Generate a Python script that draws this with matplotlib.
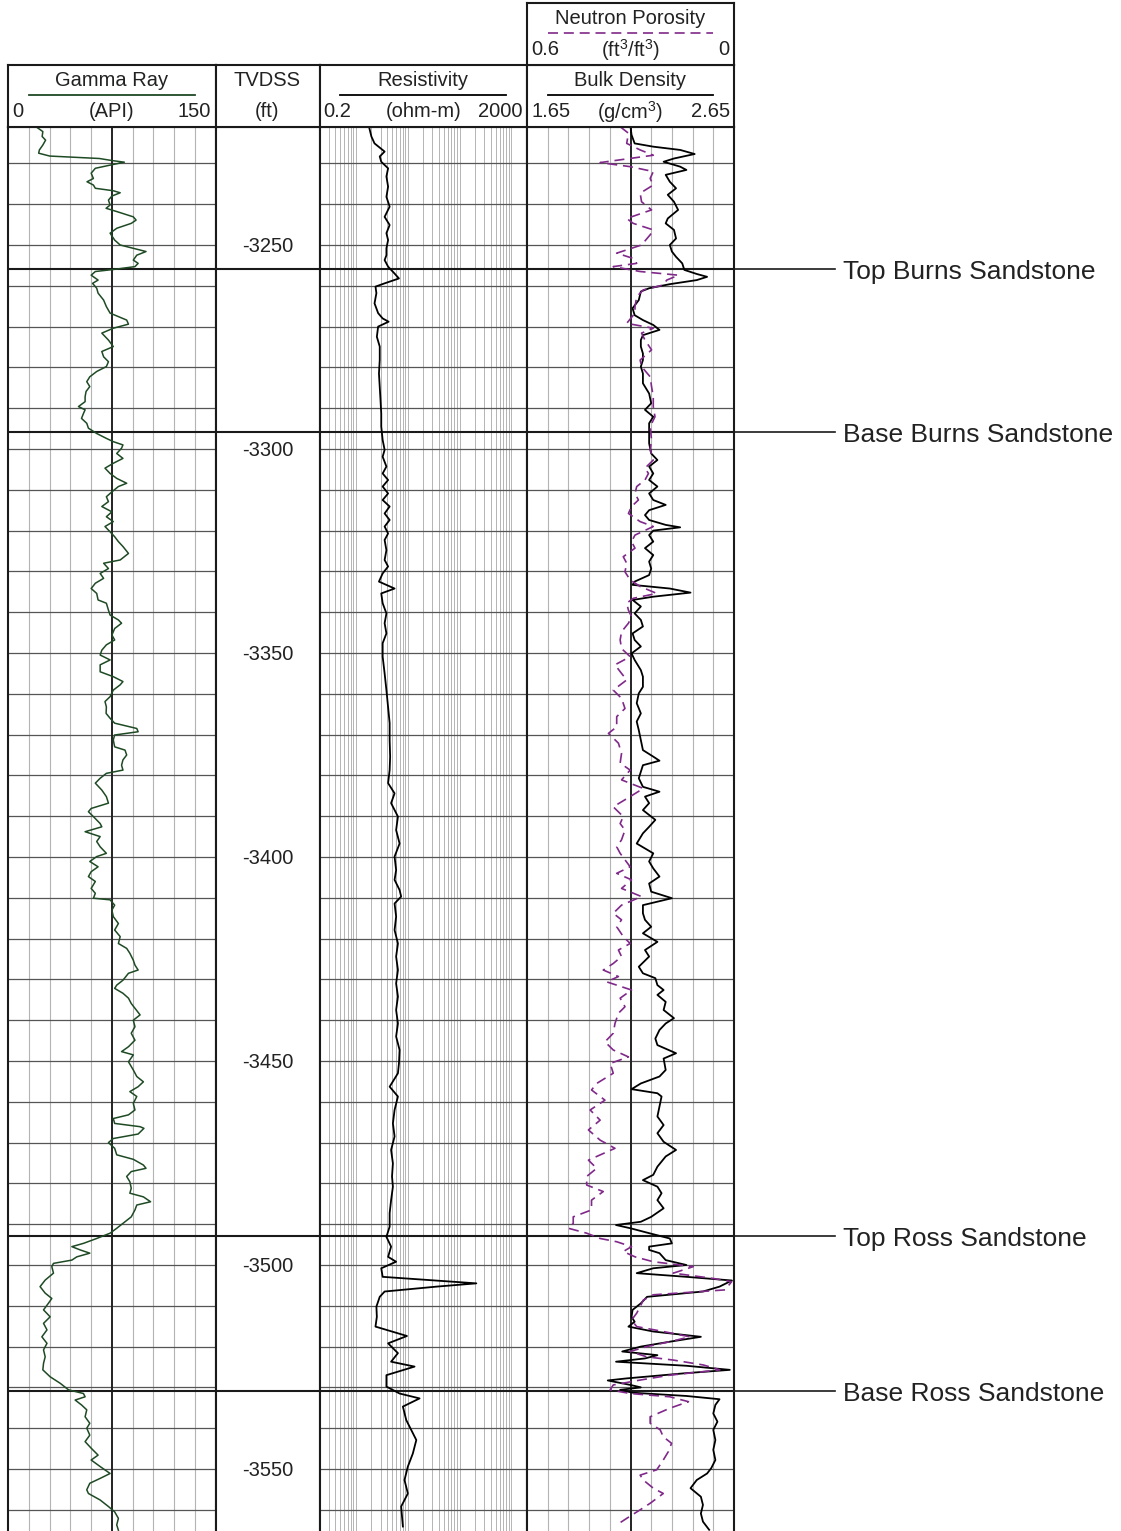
import numpy as np
import matplotlib
matplotlib.use("Agg")
import matplotlib.pyplot as plt
from matplotlib.lines import Line2D
from matplotlib import transforms
from matplotlib.ticker import NullLocator

plt.rcParams['font.family'] = ['Liberation Sans', 'DejaVu Sans']
plt.rcParams['mathtext.fontset'] = 'custom'
plt.rcParams['mathtext.rm'] = 'Liberation Sans'
plt.rcParams['mathtext.it'] = 'Liberation Sans'

# depths are feet below sea level (TVDSS shown as negative)
gr_depth = [3221.0, 3222.2, 3223.4, 3224.3, 3225.5, 3226.7, 3227.5, 3228.2, 3228.8, 3229.3, 3229.7, 3230.4, 3231.2, 3232.4, 3233.7, 3234.5, 3235.3, 3236.1, 3236.7, 3237.2,
            3238.0, 3239.0, 3240.2, 3241.0, 3241.8, 3243.1, 3243.9, 3244.7, 3245.9, 3247.1, 3248.8, 3250.0, 3250.8, 3251.6, 3252.5, 3253.7, 3254.5, 3255.3, 3256.0, 3256.5,
            3257.4, 3258.6, 3259.4, 3260.6, 3261.8, 3263.5, 3265.1, 3266.7, 3268.4, 3269.4, 3270.4, 3271.6, 3273.3, 3274.9, 3276.1, 3277.4, 3278.6, 3279.8, 3281.0, 3282.3,
            3283.5, 3284.7, 3285.9, 3287.2, 3288.4, 3289.6, 3290.4, 3291.3, 3292.5, 3293.7, 3294.9, 3296.2, 3297.4, 3298.2, 3299.0, 3299.8, 3301.1, 3302.3, 3303.5, 3304.7,
            3306.0, 3307.2, 3308.4, 3309.2, 3310.5, 3311.7, 3312.9, 3314.1, 3315.4, 3316.6, 3317.8, 3319.0, 3320.3, 3321.5, 3322.7, 3323.9, 3325.6, 3327.2, 3328.0, 3329.3,
            3330.5, 3331.7, 3332.9, 3334.2, 3335.4, 3337.0,
            3337.8, 3339.5, 3340.7, 3341.9, 3342.7, 3344.0, 3345.6, 3346.8, 3348.0, 3349.3, 3350.5, 3351.7, 3352.9, 3354.6, 3355.8, 3357.0, 3357.8, 3359.1, 3360.7, 3361.9,
            3363.2, 3364.8, 3366.0, 3367.2, 3368.5, 3369.3, 3370.1, 3371.3, 3373.0, 3373.8, 3375.0, 3376.2, 3377.5, 3378.7, 3379.5, 3380.7, 3381.9, 3383.6, 3385.2, 3386.8,
            3388.1, 3388.9, 3390.1, 3391.8, 3392.6, 3393.8, 3395.0, 3396.2, 3397.5, 3399.1, 3399.9, 3401.1, 3402.4, 3403.6, 3404.8, 3406.0, 3407.7, 3408.9, 3410.1, 3410.5,
            3411.8, 3413.0, 3414.6, 3416.3, 3417.9, 3419.5, 3421.2, 3422.4, 3423.6, 3425.3, 3426.5, 3427.7, 3428.5, 3430.2, 3431.4, 3432.2, 3433.4, 3434.6, 3435.9, 3437.1,
            3438.7, 3440.0, 3441.6, 3443.2, 3444.9, 3446.5, 3447.7, 3448.5, 3450.2, 3452.2,
            3453.8, 3455.1, 3456.3, 3457.5, 3458.7, 3460.4, 3462.0, 3463.2, 3464.1, 3465.3, 3466.1, 3466.5, 3467.9, 3469.0, 3470.0, 3471.4, 3473.0, 3474.1, 3475.5, 3476.3,
            3477.1, 3478.3, 3479.6, 3481.2, 3482.4, 3483.3, 3484.5, 3485.3, 3486.5, 3488.2, 3489.8, 3491.0, 3492.2, 3493.5, 3494.7, 3495.5, 3496.3, 3497.1, 3498.0, 3498.8,
            3499.6, 3500.4, 3502.0, 3503.7, 3505.3, 3506.9, 3508.2, 3509.4, 3511.0, 3512.7, 3514.3, 3515.9, 3517.6, 3519.2, 3520.8, 3522.5, 3524.1, 3525.7, 3527.4, 3529.0,
            3530.6, 3531.5, 3532.3, 3533.1, 3534.3, 3535.5, 3537.2, 3538.8, 3540.0, 3541.7, 3543.3, 3544.9, 3546.6, 3547.8, 3549.4, 3551.1, 3552.3, 3553.5, 3555.1, 3556.0,
            3557.6, 3559.2, 3560.5, 3562.1, 3563.7, 3565.0]
gr_api = [20, 25, 24.5, 27, 25, 22.5, 22, 30, 66, 75, 84, 74, 63, 60, 61.6, 57, 61.6, 63, 76, 81,
          75, 72.5, 73.7, 70.8, 78.5, 90.5, 92.5, 89, 78.5, 73.7, 77, 81, 90.5, 99.7, 93, 90.5, 94, 91.7, 76, 63,
          60, 65, 61, 64, 65, 69, 71, 73.7, 85.7, 87, 76, 67.7, 72.5, 76, 67.7, 69, 72.5, 71, 64, 59,
          56.8, 59, 56.3, 55.6, 55.6, 50.8, 55.6, 54.4, 53, 56.8, 58, 64, 71, 76, 83, 82, 78.5, 83, 76, 70,
          73.7, 78.5, 85.7, 79.7, 75, 71, 72.5, 67.7, 75, 71, 76, 70, 73.7, 77, 79.7, 83, 87, 81, 69, 72.5,
          66.5, 69, 63, 60, 64, 65,
          71, 72.5, 73.7, 79.7, 82, 77, 75, 77, 71, 67.7, 66.5, 73.7, 66.5, 66.5, 76, 83, 81, 76, 73.7, 70,
          71, 70.8, 73.7, 77, 93, 94, 77, 76, 77, 84.5, 85.7, 83, 82, 83, 71, 66.5, 63, 67.7, 71, 72.5,
          60, 58, 61.6, 66.5, 67.7, 55.6, 66.5, 64, 66.5, 71, 64, 59, 65, 60, 58, 63, 60, 63, 61.6, 73.7,
          77, 75, 76, 79.7, 77, 81, 79.7, 85.7, 88, 90.5, 91.7, 94, 87, 83, 78.5, 77, 83, 87, 89, 91.7,
          95.4, 90.5, 91.7, 89, 91.7, 87, 82, 90.5, 87, 90.5,
          93, 97.8, 94, 88, 93, 90.5, 91.7, 87, 76, 77, 95.4, 98.2, 94, 76, 72.5, 77, 78.5, 90.5, 97.8, 99.7,
          89, 85.7, 88, 89, 88, 97.8, 103, 93, 91.7, 89, 83, 78.5, 73.7, 64, 54.4, 46, 52, 59, 49.6, 46,
          32.7, 31.5, 32.7, 26.7, 23, 26.7, 31.5, 29, 25.5, 30.3, 25.5, 28, 24.3, 28, 25.5, 26.7, 25.5, 25, 30.3, 37.6,
          43.6, 54.4, 55.6, 48.4, 53, 56.8, 55.6, 59, 56.8, 59, 55.6, 60, 65, 60, 66.5, 73.7, 66.5, 59, 56.8, 58,
          66.5, 72.5, 77, 79.7, 78.5, 79.7]

res_depth = [3221.0, 3223.4, 3225.1, 3227.1, 3228.3, 3229.6, 3231.2, 3233.2, 3235.7, 3238.2, 3240.6, 3243.1, 3245.1, 3247.1, 3248.8, 3250.8, 3252.5, 3253.7, 3255.3, 3257.0,
             3258.2, 3259.4, 3260.2, 3261.8, 3264.3, 3266.7, 3268.0, 3268.8, 3270.0, 3272.5, 3274.9, 3278.2, 3281.5, 3284.7, 3288.0, 3291.3, 3294.5, 3297.8, 3300.2, 3301.9,
             3304.3, 3306.0, 3307.6, 3309.2, 3310.9, 3312.5, 3314.1, 3315.8, 3317.4, 3319.0, 3320.7, 3322.3, 3324.8, 3327.2, 3328.8, 3330.5, 3332.5, 3334.2, 3335.4,
             3337.8, 3340.3, 3342.7, 3345.2, 3347.6, 3350.9, 3355.0, 3359.1, 3363.2, 3367.2, 3371.3, 3375.4, 3378.7, 3381.9, 3384.4, 3386.8, 3390.1, 3393.4, 3396.7, 3399.9,
             3403.2, 3405.6, 3408.1, 3409.7, 3411.4, 3414.6, 3417.9, 3421.2, 3424.4, 3427.7, 3431.0, 3434.2, 3437.5, 3440.8, 3444.0, 3447.3, 3450.6,
             3453.0, 3456.3, 3458.7, 3462.0, 3465.3, 3468.5, 3471.8, 3475.1, 3478.3, 3480.8, 3484.1, 3487.3, 3490.6, 3493.1, 3495.5, 3498.0, 3499.2, 3500.8, 3502.9, 3503.7,
             3504.5, 3505.3, 3506.5, 3507.8, 3510.2, 3512.7, 3515.1, 3517.4, 3519.2, 3521.6, 3523.7, 3524.9, 3527.0, 3529.8, 3531.5, 3532.7, 3534.7, 3538.0, 3542.9, 3546.2,
             3549.4, 3552.7, 3556.0, 3559.2, 3564.1]
res_ohmm = [1.8, 2.0, 2.3, 3.6, 2.9, 3.1, 4.2, 3.9, 4.2, 3.9, 4.5, 3.6, 4.5, 3.9, 4.2, 3.9, 3.9, 3.6, 4.2, 5.6,
            6.8, 3.6, 2.4, 2.5, 2.3, 2.7, 3.3, 4.3, 2.7, 2.55, 2.9, 2.9, 2.8, 2.9, 3.0, 3.1, 3.1, 3.3, 3.6, 3.3,
            3.9, 3.3, 4.2, 3.3, 4.2, 3.3, 4.5, 3.6, 4.5, 3.6, 4.2, 3.6, 3.9, 3.6, 4.2, 3.3, 2.8, 5.6, 3.1,
            3.3, 3.9, 3.6, 3.9, 3.3, 3.3, 3.6, 3.9, 4.2, 4.5, 4.5, 4.6, 4.5, 4.2, 5.6, 4.8, 6.5, 6.0, 7.0, 5.6,
            6.0, 5.6, 7.0, 7.5, 5.6, 6.0, 5.6, 6.5, 6.0, 6.5, 6.0, 6.5, 6.0, 6.5, 6.0, 7.0, 6.8,
            6.5, 4.5, 6.5, 5.6, 5.2, 5.6, 4.8, 5.2, 5.0, 5.2, 4.8, 4.5, 4.5, 3.9, 4.8, 4.2, 6.0, 3.1, 3.3, 26,
            211, 36, 3.6, 2.9, 2.5, 2.55, 2.4, 9.7, 4.2, 6.5, 4.8, 13.6, 3.9, 3.9, 7.0, 17, 8.1, 9.4, 14.7, 12.6,
            10.1, 8.7, 10.1, 7.5, 8.1]

rhob_depth = [3221.0, 3223.0, 3225.1, 3225.9, 3226.7, 3227.7, 3228.8, 3229.6, 3230.8, 3231.6, 3232.8, 3234.5, 3236.1, 3237.7, 3239.4, 3241.4, 3243.5, 3244.7, 3246.3, 3248.4,
              3250.0, 3251.6, 3252.9, 3254.5, 3256.1, 3257.1, 3257.8, 3258.6, 3259.6, 3260.6, 3261.4, 3263.5, 3265.5, 3267.2, 3268.4, 3269.6, 3270.8, 3272.1, 3273.3, 3274.9,
              3276.6, 3278.2, 3279.8, 3281.5, 3283.9, 3286.4, 3288.8, 3290.4, 3292.1, 3293.7, 3296.2, 3298.6, 3301.1, 3302.7, 3304.3, 3306.0, 3307.6, 3309.2, 3310.9, 3312.5,
              3313.7, 3315.0, 3316.2, 3317.4, 3318.6, 3319.2, 3320.0, 3321.1, 3322.7, 3324.3, 3326.0, 3327.6, 3329.3, 3330.9, 3332.5, 3333.3, 3334.2, 3335.2, 3336.2, 3337.0,
              3338.6, 3340.3, 3341.9, 3343.5, 3345.2, 3346.8, 3348.4, 3350.1, 3351.7, 3354.2, 3355.8, 3358.3, 3359.9, 3362.3, 3364.8, 3366.8, 3368.9, 3371.3, 3373.8, 3375.4,
              3376.4, 3377.5, 3379.1, 3380.7, 3382.8, 3384.0, 3385.2, 3386.8, 3388.5, 3390.9, 3392.6, 3394.2, 3396.7, 3397.9, 3399.1, 3401.1, 3402.8, 3404.8, 3406.5, 3408.5,
              3410.1, 3411.8, 3413.8, 3415.4, 3417.1, 3418.7, 3420.8, 3422.8, 3424.4, 3426.9, 3428.5, 3429.7, 3431.4, 3432.6, 3433.8, 3435.5, 3437.5, 3439.5, 3440.8, 3442.4,
              3444.5, 3446.1, 3448.1, 3449.4, 3452.2,
              3453.8, 3455.5, 3456.9, 3457.9, 3458.7, 3461.2, 3463.6, 3465.7, 3467.7, 3469.8, 3471.8, 3473.4, 3475.9, 3477.9, 3479.2, 3480.8, 3482.4, 3484.1, 3486.1, 3488.2,
              3489.4, 3490.2, 3491.0, 3492.2, 3493.5, 3494.7, 3495.5, 3496.3, 3497.1, 3498.8, 3500.0, 3500.8, 3502.0, 3502.9, 3503.8, 3505.3, 3506.5, 3507.8, 3509.4, 3511.0,
              3512.7, 3513.9, 3515.1, 3516.3, 3517.6, 3518.8, 3520.0, 3521.2, 3522.1, 3522.9, 3523.7, 3524.7, 3525.7, 3526.5, 3527.8, 3528.3, 3529.4, 3530.0, 3530.6, 3531.3,
              3532.1, 3532.9, 3534.3, 3536.4, 3538.4, 3540.4, 3542.9, 3545.3, 3547.8, 3549.8, 3551.1, 3552.7, 3554.7, 3556.8, 3558.8, 3560.9, 3562.9, 3564.9]
rhob = [2.15, 2.155, 2.17, 2.26, 2.39, 2.46, 2.36, 2.31, 2.39, 2.42, 2.32, 2.34, 2.37, 2.33, 2.36, 2.38, 2.33, 2.32, 2.36, 2.37,
        2.34, 2.35, 2.37, 2.40, 2.41, 2.47, 2.52, 2.47, 2.34, 2.24, 2.20, 2.19, 2.16, 2.17, 2.21, 2.26, 2.29, 2.21, 2.20, 2.20,
        2.21, 2.21, 2.20, 2.21, 2.21, 2.24, 2.25, 2.22, 2.26, 2.24, 2.24, 2.24, 2.25, 2.28, 2.24, 2.26, 2.24, 2.28, 2.24, 2.26,
        2.32, 2.24, 2.22, 2.24, 2.32, 2.39, 2.26, 2.24, 2.26, 2.22, 2.26, 2.24, 2.25, 2.24, 2.17, 2.16, 2.34, 2.44, 2.26, 2.16,
        2.20, 2.17, 2.20, 2.21, 2.16, 2.17, 2.20, 2.155, 2.17, 2.20, 2.21, 2.21, 2.19, 2.18, 2.20, 2.18, 2.19, 2.20, 2.21, 2.26,
        2.29, 2.21, 2.20, 2.19, 2.21, 2.29, 2.22, 2.24, 2.21, 2.27, 2.24, 2.21, 2.18, 2.22, 2.26, 2.24, 2.26, 2.29, 2.24, 2.25,
        2.35, 2.21, 2.21, 2.22, 2.25, 2.21, 2.28, 2.22, 2.24, 2.19, 2.21, 2.27, 2.28, 2.31, 2.28, 2.32, 2.31, 2.36, 2.32, 2.29,
        2.27, 2.28, 2.37, 2.31, 2.32,
        2.29, 2.20, 2.155, 2.28, 2.30, 2.29, 2.28, 2.31, 2.28, 2.31, 2.37, 2.32, 2.28, 2.26, 2.21, 2.28, 2.30, 2.28, 2.31, 2.25,
        2.20, 2.08, 2.15, 2.24, 2.34, 2.35, 2.24, 2.24, 2.29, 2.32, 2.42, 2.26, 2.18, 2.42, 2.64, 2.58, 2.50, 2.23, 2.20, 2.16,
        2.155, 2.17, 2.14, 2.26, 2.49, 2.34, 2.20, 2.11, 2.28, 2.22, 2.08, 2.42, 2.63, 2.42, 2.13, 2.04, 2.15, 2.20, 2.10, 2.16,
        2.42, 2.58, 2.56, 2.55, 2.57, 2.55, 2.56, 2.55, 2.56, 2.54, 2.52, 2.47, 2.44, 2.49, 2.50, 2.49, 2.50, 2.53]

nphi_depth = [3221.0, 3222.6, 3225.1, 3226.7, 3228.0, 3229.8, 3230.8, 3232.0, 3233.7, 3235.3, 3237.3, 3239.4, 3241.4, 3243.5, 3244.7, 3246.3, 3247.5, 3250.0, 3252.0, 3253.3,
              3254.5, 3255.3, 3256.5, 3257.4, 3258.6, 3259.8, 3261.0, 3262.7, 3265.1, 3266.7, 3269.2, 3270.4, 3271.6, 3273.3, 3275.7, 3278.2, 3279.8, 3282.3, 3284.7, 3287.2,
              3289.6, 3292.1, 3294.5, 3297.8, 3300.2, 3302.7, 3304.7, 3306.0, 3307.6, 3309.2, 3310.9, 3312.5, 3314.1, 3315.8, 3317.8, 3319.0, 3321.1, 3322.7, 3324.3, 3326.4,
              3328.0, 3330.1, 3332.1, 3333.7, 3335.4, 3336.6,
              3337.8, 3339.5, 3341.1, 3342.7, 3344.8, 3346.8, 3348.9, 3350.9, 3352.9, 3355.0, 3356.6, 3359.1, 3361.1, 3363.6, 3365.6, 3368.1, 3369.7, 3372.1, 3374.6, 3377.0,
              3378.7, 3381.1, 3383.2, 3385.2, 3387.7, 3390.1, 3391.8, 3393.4, 3395.8, 3397.5, 3399.1, 3400.7, 3402.4, 3404.0, 3405.6, 3407.7, 3409.7, 3411.8, 3413.8, 3415.4,
              3417.1, 3419.5, 3421.2, 3422.8, 3424.4, 3426.1, 3427.7, 3429.3, 3430.6, 3432.6, 3434.6, 3436.7, 3438.3, 3440.8, 3443.2, 3445.3, 3447.3, 3449.0, 3450.6,
              3453.0, 3455.5, 3457.1, 3459.6, 3462.0, 3464.5, 3466.9, 3469.4, 3471.4, 3474.3, 3476.3, 3478.3, 3480.4, 3482.0, 3484.1, 3486.5, 3488.2, 3489.8, 3491.0, 3492.2,
              3493.5, 3494.3, 3495.5, 3496.7, 3498.0, 3499.2, 3500.4, 3502.0, 3503.3, 3504.1, 3506.1, 3507.3, 3508.6, 3510.2, 3511.8, 3513.5, 3515.1, 3516.3, 3517.6, 3518.8,
              3520.0, 3521.2, 3522.5, 3523.3, 3524.5, 3525.7, 3527.0, 3528.2, 3529.4, 3530.6, 3531.5, 3532.3, 3533.5, 3535.1, 3537.2, 3538.8, 3540.4, 3542.1, 3543.7, 3545.7,
              3547.8, 3550.2, 3551.5, 3552.7, 3554.7, 3556.0, 3558.4, 3560.0, 3562.1, 3563.7]
nphi = [0.330, 0.306, 0.311, 0.272, 0.234, 0.388, 0.301, 0.234, 0.243, 0.234, 0.272, 0.268, 0.239, 0.311, 0.292, 0.234, 0.243, 0.268, 0.340, 0.292,
        0.282, 0.350, 0.272, 0.161, 0.195, 0.205, 0.263, 0.282, 0.287, 0.287, 0.311, 0.234, 0.268, 0.258, 0.239, 0.272, 0.268, 0.243, 0.239, 0.234,
        0.234, 0.229, 0.243, 0.239, 0.243, 0.234, 0.258, 0.248, 0.258, 0.282, 0.287, 0.277, 0.297, 0.306, 0.272, 0.234, 0.287, 0.297, 0.287, 0.321,
        0.311, 0.316, 0.301, 0.272, 0.224, 0.292,
        0.311, 0.306, 0.297, 0.306, 0.326, 0.330, 0.326, 0.301, 0.345, 0.326, 0.311, 0.350, 0.326, 0.316, 0.340, 0.340, 0.364, 0.335, 0.326, 0.330,
        0.301, 0.326, 0.263, 0.301, 0.350, 0.321, 0.330, 0.316, 0.326, 0.340, 0.330, 0.316, 0.301, 0.340, 0.297, 0.326, 0.268, 0.326, 0.350, 0.326,
        0.340, 0.321, 0.301, 0.335, 0.326, 0.350, 0.379, 0.335, 0.369, 0.297, 0.330, 0.316, 0.335, 0.345, 0.350, 0.374, 0.350, 0.306, 0.359,
        0.350, 0.398, 0.413, 0.374, 0.417, 0.388, 0.422, 0.388, 0.345, 0.422, 0.398, 0.427, 0.427, 0.379, 0.413, 0.413, 0.466, 0.466, 0.480, 0.427,
        0.388, 0.340, 0.297, 0.321, 0.287, 0.234, 0.118, 0.176, 0.060, 0.007, 0.026, 0.234, 0.263, 0.272, 0.282, 0.297, 0.282, 0.205, 0.128, 0.186,
        0.253, 0.301, 0.253, 0.176, 0.089, 0.041, 0.186, 0.272, 0.350, 0.359, 0.301, 0.186, 0.132, 0.186, 0.243, 0.243, 0.214, 0.205, 0.181, 0.190,
        0.205, 0.224, 0.272, 0.263, 0.234, 0.205, 0.243, 0.272, 0.311, 0.340]

top_names = ['Top Burns Sandstone', 'Base Burns Sandstone', 'Top Ross Sandstone', 'Base Ross Sandstone']
top_depths = [3256.0, 3295.9, 3493.0, 3531.0]
depth_labels = [3250, 3300, 3350, 3400, 3450, 3500, 3550]

W, H = 1121, 1531
fig = plt.figure(figsize=(W / 100, H / 100), dpi=100)


def box(x0, y0, x1, y1):
    return [x0 / W, 1 - y1 / H, (x1 - x0) / W, (y1 - y0) / H]


GR_C = '#1e4a24'
NPHI_C = '#80298a'
TXT = '#222222'
depth_top = 3250 - (245 - 126.5) / 4.08
depth_bot = 3250 + (1531 - 245) / 4.08
edges = [8.3, 215.5, 319.5, 527.0, 734.0]

axes = []
for i in range(4):
    ax = fig.add_axes(box(edges[i], 126.5, edges[i + 1], 1531))
    ax.set_ylim(depth_bot, depth_top)
    for s in ['left', 'right', 'top']:
        ax.spines[s].set_linewidth(1.5)
        ax.spines[s].set_color('#1a1a1a')
    ax.spines['bottom'].set_visible(False)
    axes.append(ax)
ax_gr, ax_dep, ax_res, ax_den = axes

grid_depths = np.arange(3230, 3561, 10)

# gamma ray track
ax_gr.set_xlim(0, 150)
for v in np.arange(15, 150, 15):
    if v == 75:
        ax_gr.axvline(v, color='#222222', lw=1.4, zorder=1.5)
    else:
        ax_gr.axvline(v, color='#b4b4b4', lw=0.8, zorder=1)
ax_gr.plot(gr_api, gr_depth, color=GR_C, lw=1.1, zorder=3)

# resistivity track (log)
ax_res.set_xscale('log')
ax_res.set_xlim(0.2, 2000)
for dec in [0.1, 1, 10, 100, 1000]:
    for m in range(1, 10):
        v = dec * m
        if 0.2 < v < 2000:
            ax_res.axvline(v, color='#b4b4b4', lw=0.7, zorder=1)
ax_res.plot(res_ohmm, res_depth, color='black', lw=1.3, zorder=3)

# density / neutron track
ax_den.set_xlim(1.65, 2.65)
for v in np.arange(1.75, 2.6, 0.1):
    if abs(v - 2.15) < 1e-6:
        ax_den.axvline(v, color='#222222', lw=1.4, zorder=1.5)
    else:
        ax_den.axvline(v, color='#b4b4b4', lw=0.8, zorder=1)
ax_nphi = ax_den.twiny()
ax_nphi.set_xlim(0.6, 0.0)
ax_nphi.set_ylim(depth_bot, depth_top)
ax_nphi.axis('off')
ax_nphi.plot(nphi, nphi_depth, color=NPHI_C, lw=1.2, dashes=(6, 3.5), zorder=3)
ax_den.plot(rhob, rhob_depth, color='black', lw=1.3, zorder=3)

for ax in axes:
    ax.xaxis.set_major_locator(NullLocator())
    ax.xaxis.set_minor_locator(NullLocator())
    ax.yaxis.set_major_locator(NullLocator())
    ax.yaxis.set_minor_locator(NullLocator())

for ax in [ax_gr, ax_res, ax_den]:
    for d in grid_depths:
        ax.axhline(d, color='#555555', lw=0.9, zorder=1.2)

for d in top_depths:
    for ax in axes:
        ax.axhline(d, color='#1a1a1a', lw=1.5, zorder=2)

for d in depth_labels:
    ax_dep.text(0.5, d, '-%d' % d, transform=ax_dep.get_yaxis_transform(),
                ha='center', va='center_baseline', fontsize=14.5, color=TXT)

# formation top labels to the right of the tracks
trans = transforms.blended_transform_factory(fig.transFigure, ax_gr.transData)
for name, d in zip(top_names, top_depths):
    fig.add_artist(Line2D([734 / W, 835 / W], [d, d], transform=trans, color='#1a1a1a', lw=1.2))
    fig.text(843 / W, d, name, transform=trans, ha='left', va='center_baseline', fontsize=19, color=TXT)


def header(x0, x1, y0, y1, title, left, unit, right, line_color=None, dashed=False):
    hx = fig.add_axes(box(x0, y0, x1, y1))
    hx.set_xlim(0, 1)
    hx.set_ylim(0, 1)
    hx.set_xticks([])
    hx.set_yticks([])
    for s in hx.spines.values():
        s.set_linewidth(1.5)
        s.set_color('#1a1a1a')
    hx.text(0.5, 0.74, title, ha='center', va='center', fontsize=14.5, color=TXT)
    if line_color is not None:
        if dashed:
            hx.plot([0.1, 0.9], [0.51, 0.51], color=line_color, lw=1.2, dashes=(6, 3.5))
        else:
            hx.plot([0.1, 0.9], [0.51, 0.51], color=line_color, lw=1.3)
    hx.text(0.02, 0.24, left, ha='left', va='center', fontsize=14.5, color=TXT)
    hx.text(0.5, 0.24, unit, ha='center', va='center', fontsize=14.5, color=TXT)
    hx.text(0.98, 0.24, right, ha='right', va='center', fontsize=14.5, color=TXT)
    return hx


header(edges[0], edges[1], 64.5, 126.5, 'Gamma Ray', '0', '(API)', '150', GR_C)
header(edges[1], edges[2], 64.5, 126.5, 'TVDSS', '', '(ft)', '')
header(edges[2], edges[3], 64.5, 126.5, 'Resistivity', '0.2', '(ohm-m)', '2000', 'black')
header(edges[3], edges[4], 64.5, 126.5, 'Bulk Density', '1.65', '(g/cm$^3$)', '2.65', 'black')
header(edges[3], edges[4], 2.5, 64.5, 'Neutron Porosity', '0.6', '(ft$^3$/ft$^3$)', '0', NPHI_C, dashed=True)

fig.savefig('out.png', dpi=100, facecolor='white')
